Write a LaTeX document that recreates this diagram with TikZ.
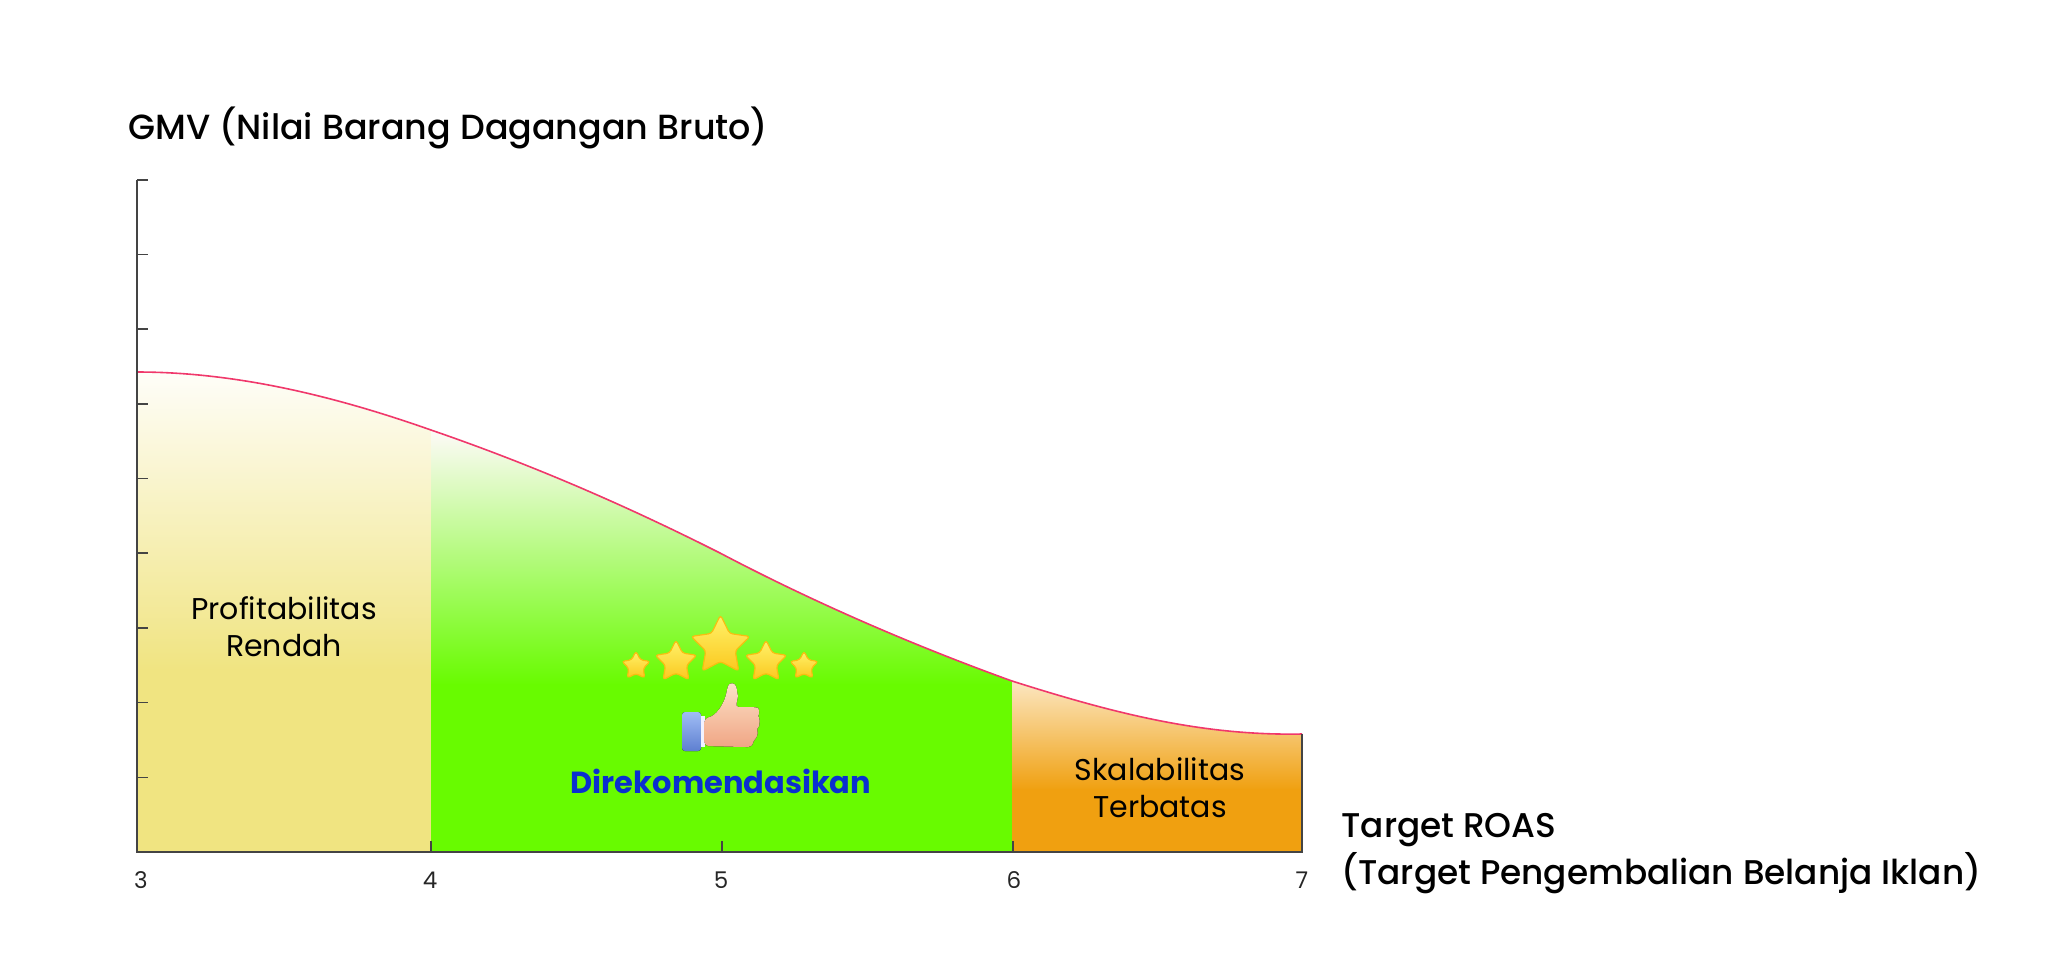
\documentclass[tikz,border=0pt]{standalone}
\usepackage{fontspec}
\setmainfont{Poppins}
\newfontfamily\titlefont{Poppins Medium}
\usetikzlibrary{shapes.geometric}
\definecolor{axisgrey}{HTML}{444444}
\definecolor{curvered}{HTML}{F0386B}
\definecolor{lowyellow}{HTML}{F0E481}
\definecolor{recgreen}{HTML}{68FB00}
\definecolor{limorange}{HTML}{F0A010}
\definecolor{recblue}{HTML}{0A2FD0}
\definecolor{sleevetop}{HTML}{A0BDF5}
\definecolor{sleevebot}{HTML}{5E7FD0}
\definecolor{handtop}{HTML}{FCE3C8}
\definecolor{handbot}{HTML}{F0A585}
\definecolor{startop}{HTML}{FFF26A}
\definecolor{starbot}{HTML}{FBC81E}
\definecolor{staredge}{HTML}{F8BE10}
\tikzset{
    axisline/.style={draw=axisgrey, line width=0.8pt},
    zonetext/.style={align=center, font=\fontsize{15}{18.5}\selectfont},
    ticktext/.style={text=black!85, font=\fontsize{11.5}{13}\selectfont},
    titletext/.style={anchor=base west, align=left, inner sep=0pt, font=\titlefont\fontsize{17.15}{23.5}\selectfont},
    goldstar/.style={star, star points=5, star point ratio=2, rounded corners=1.5pt, inner sep=0pt,
        top color=startop, bottom color=starbot, draw=staredge, line width=0.6pt},
}
\newcommand{\undercurve}{(137,372) .. controls (240,372) and (340,398) .. (431,430)
    .. controls (530,464) and (625,505) .. (720,553)
    .. controls (815,603) and (915,646) .. (1012,681)
    .. controls (1110,712) and (1200,736) .. (1302,734)}
\begin{document}
\begin{tikzpicture}[x=0.5pt, y=-0.5pt]
    \useasboundingbox (0,0) rectangle (2048,954);

    \begin{scope}
        \clip \undercurve -- (1302,852) -- (137,852) -- cycle;
        \fill[top color=lowyellow!5!white, bottom color=lowyellow] (137,372) rectangle (431,670);
        \fill[lowyellow] (137,669) rectangle (431,852);
        \fill[top color=red!2!white, bottom color=recgreen] (431,428) rectangle (1012,685);
        \fill[recgreen] (431,684) rectangle (1012,852);
        \fill[top color=limorange!25!white, bottom color=limorange] (1012,680) rectangle (1302,790);
        \fill[limorange] (1012,789) rectangle (1302,852);
    \end{scope}

    \draw[curvered, line width=0.8pt] \undercurve;

    \coordinate (origin) at (137,852);
    \coordinate (ytop) at (137,180);
    \coordinate (xend) at (1302,852);
    \coordinate (curveend) at (1302,734);
    \draw[axisline] (ytop) -- (origin) -- (xend) -- (curveend);
    \foreach \y in {1,...,9}
        \draw[axisline] (137,852-74.7*\y) -- (148,852-74.7*\y);
    \foreach \x/\l in {431/4,722/5,1013/6}
        \draw[axisline] (\x,852) -- (\x,841);
    \foreach \x/\l in {141/3,430/4,721/5,1014/6,1302/7}
        \node[ticktext] (tick\l) at (\x,880) {\l};

    \node[zonetext] (lowprofit) at (284,627) {Profitabilitas\\Rendah};
    \node[zonetext] (limitscale) at (1160,788) {Skalabilitas\\Terbatas};
    \node[anchor=base, text=recblue, font=\bfseries\fontsize{15.25}{18}\selectfont] (recommend) at (721,793) {Direkomendasikan};
    \node[titletext, font=\titlefont\fontsize{17.45}{23.5}\selectfont] (ytitle) at (128,139) {GMV (Nilai Barang Dagangan Bruto)};
    \node[titletext] (xtitle) at (1341,884) {Target ROAS\\(Target Pengembalian Belanja Iklan)};

    \node[goldstar, minimum size=15pt] (star1) at (636,666) {};
    \node[goldstar, minimum size=22pt] (star2) at (676,662) {};
    \node[goldstar, minimum size=31pt] (star3) at (720.5,646) {};
    \node[goldstar, minimum size=22pt] (star4) at (766,662) {};
    \node[goldstar, minimum size=15pt] (star5) at (804,666) {};

    \fill[top color=sleevetop, bottom color=sleevebot, rounded corners=1.5pt] (682,712) rectangle (701,751);
    \fill[blue!5!white] (701,716) rectangle (704.5,747);
    \fill[top color=handtop, bottom color=handbot, rounded corners=2pt]
        (704.5,718) .. controls (716,716) and (724,704) .. (727,690)
        .. controls (729,682) and (736,682) .. (737,692)
        .. controls (738,696) and (737,702) .. (735,707)
        -- (754,707) .. controls (759,708) and (759,713) .. (757,716)
        .. controls (760,720) and (759,726) .. (756,728)
        .. controls (758,733) and (757,737) .. (753,741)
        .. controls (752,746) and (748,747) .. (744,747)
        -- (704.5,746) -- cycle;
\end{tikzpicture}
\end{document}
